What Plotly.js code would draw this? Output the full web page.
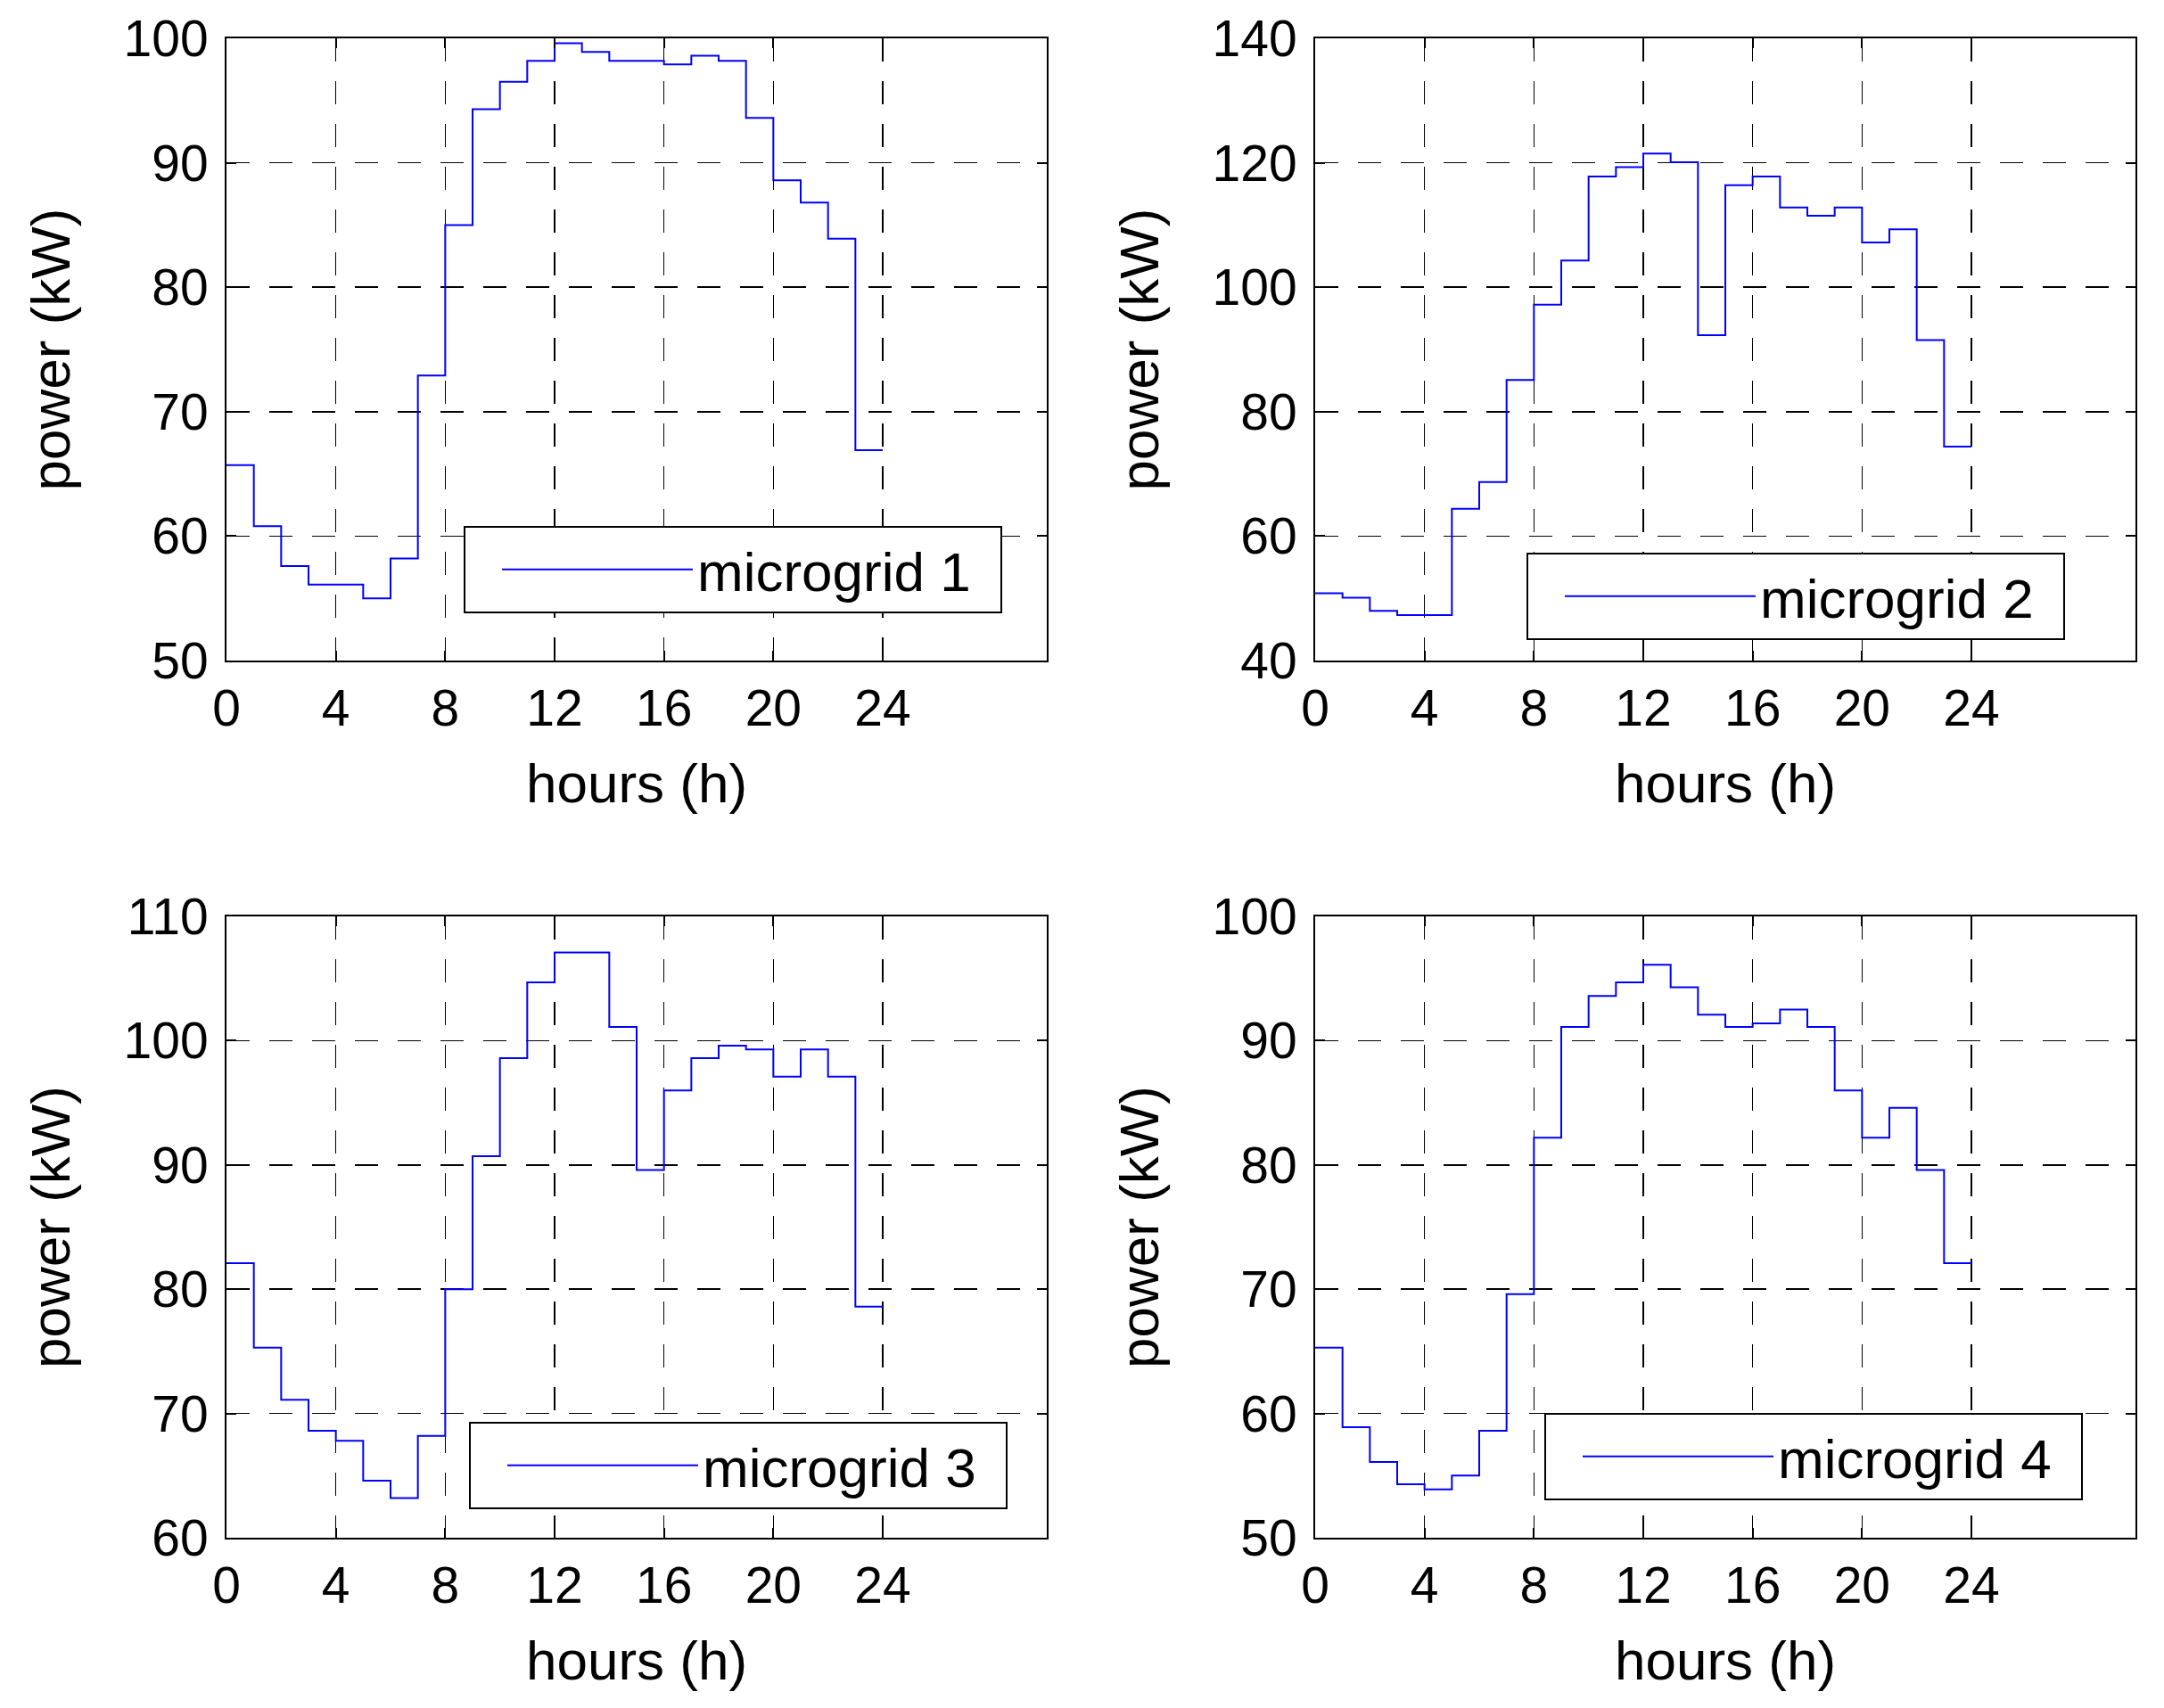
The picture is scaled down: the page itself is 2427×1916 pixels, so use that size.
<!DOCTYPE html>
<html>
<head>
<meta charset="utf-8">
<script src="https://cdn.plot.ly/plotly-3.0.1.min.js"></script>
<style>html,body{margin:0;padding:0;background:#fff;}#chart{width:2427px;height:1916px;}</style>
</head>
<body>
<div id="chart"></div>
<script>
// Hour index (start of each hourly step)
const hours = [0,1,2,3,4,5,6,7,8,9,10,11,12,13,14,15,16,17,18,19,20,21,22,23];

// Power (kW) per hour for each microgrid
const microgrid1 = [65.7,60.8,57.6,56.1,56.1,55.0,58.2,72.9,85.0,94.3,96.5,98.2,99.6,98.9,98.2,98.2,97.9,98.6,98.2,93.6,88.6,86.8,83.9,66.9];
const microgrid2 = [50.8,50.1,48.0,47.3,47.3,64.4,68.7,85.1,97.2,104.3,117.8,119.3,121.5,120.1,92.3,116.4,117.8,112.8,111.5,112.8,107.2,109.3,91.5,74.4];
const microgrid3 = [82.1,75.3,71.1,68.6,67.8,64.6,63.2,68.2,80.0,90.7,98.6,104.7,107.1,107.1,101.1,89.6,96.0,98.6,99.6,99.3,97.1,99.3,97.1,78.6];
const microgrid4 = [65.3,58.9,56.1,54.3,53.9,55.0,58.6,69.6,82.2,91.1,93.6,94.7,96.1,94.3,92.1,91.1,91.4,92.5,91.1,86.0,82.2,84.6,79.6,72.1];

const seriesNames = ['microgrid 1','microgrid 2','microgrid 3','microgrid 4'];
const seriesData = [microgrid1, microgrid2, microgrid3, microgrid4];

const xTicks = [0,4,8,12,16,20,24];
const yRanges = [[50,100],[40,140],[60,110],[50,100]];
const yTicks = [
  [50,60,70,80,90,100],
  [40,60,80,100,120,140],
  [60,70,80,90,100,110],
  [50,60,70,80,90,100]
];

const FONT = 'Liberation Sans, Arial, Helvetica, sans-serif';
const W = 2427, H = 1916;

// panel plot-area boxes (px)
const xDom = [[254/W, 1174/W], [1475/W, 2395/W]];
const yDom = [[1-741/H, 1-43/H], [1-1725/H, 1-1028/H]];
const legendPos = [
  {x: 520/W, y: 1-590/H},
  {x: 1712/W, y: 1-620/H},
  {x: 526/W, y: 1-1595/H},
  {x: 1732/W, y: 1-1585/H}
];

const traces = [];
const layout = {
  width: W, height: H,
  margin: {l:0, r:0, t:0, b:0},
  paper_bgcolor: '#fff', plot_bgcolor: '#fff',
  font: {family: FONT, color: '#000', size: 57},
  showlegend: true
};

function axisCommon() {
  return {
    showline: true, linecolor: '#000', linewidth: 2, mirror: 'ticks',
    ticks: 'inside', ticklen: 11, tickwidth: 2, tickcolor: '#000',
    showgrid: true, gridcolor: '#000', gridwidth: 1.6, griddash: '26px,22px',
    zeroline: false, automargin: false,
    tickfont: {family: FONT, size: 57, color: '#000'}
  };
}

for (let i = 0; i < 4; i++) {
  const col = i % 2, row = Math.floor(i / 2);
  const n = i + 1;
  const xa = n === 1 ? 'x' : 'x' + n;
  const ya = n === 1 ? 'y' : 'y' + n;
  const lg = n === 1 ? 'legend' : 'legend' + n;
  const vals = seriesData[i];
  traces.push({
    type: 'scatter', mode: 'lines',
    x: hours.concat([hours[hours.length-1] + 1]),
    y: vals.concat([vals[vals.length-1]]),
    line: {shape: 'hv', color: '#0000ff', width: 2},
    name: seriesNames[i],
    xaxis: xa, yaxis: ya, legend: lg,
    hoverinfo: 'x+y'
  });
  const xk = n === 1 ? 'xaxis' : 'xaxis' + n;
  const yk = n === 1 ? 'yaxis' : 'yaxis' + n;
  layout[xk] = Object.assign(axisCommon(), {
    domain: xDom[col], anchor: ya, range: [0, 30],
    tickmode: 'array', tickvals: xTicks, ticktext: xTicks.map(String),
    ticklabelstandoff: 3,
    title: {text: 'hours (h)', font: {family: FONT, size: 62, color: '#000'}, standoff: 31}
  });
  layout[yk] = Object.assign(axisCommon(), {
    domain: yDom[row], anchor: xa, range: yRanges[i],
    tickmode: 'array', tickvals: yTicks[i], ticktext: yTicks[i].map(String),
    ticklabelstandoff: 7,
    title: {text: 'power (kW)', font: {family: FONT, size: 62, color: '#000'}, standoff: 40}
  });
  layout[lg] = {
    x: legendPos[i].x, y: legendPos[i].y, xanchor: 'left', yanchor: 'top',
    xref: 'paper', yref: 'paper', orientation: 'h',
    bgcolor: '#fff', bordercolor: '#000', borderwidth: 2,
    font: {family: FONT, size: 62, color: '#000'},
    indentation: 36, itemwidth: 214,
    entrywidthmode: 'pixels', entrywidth: 335,
    itemclick: false, itemdoubleclick: false
  };
}

Plotly.newPlot('chart', traces, layout, {staticPlot: true, displayModeBar: false});
</script>
</body>
</html>
